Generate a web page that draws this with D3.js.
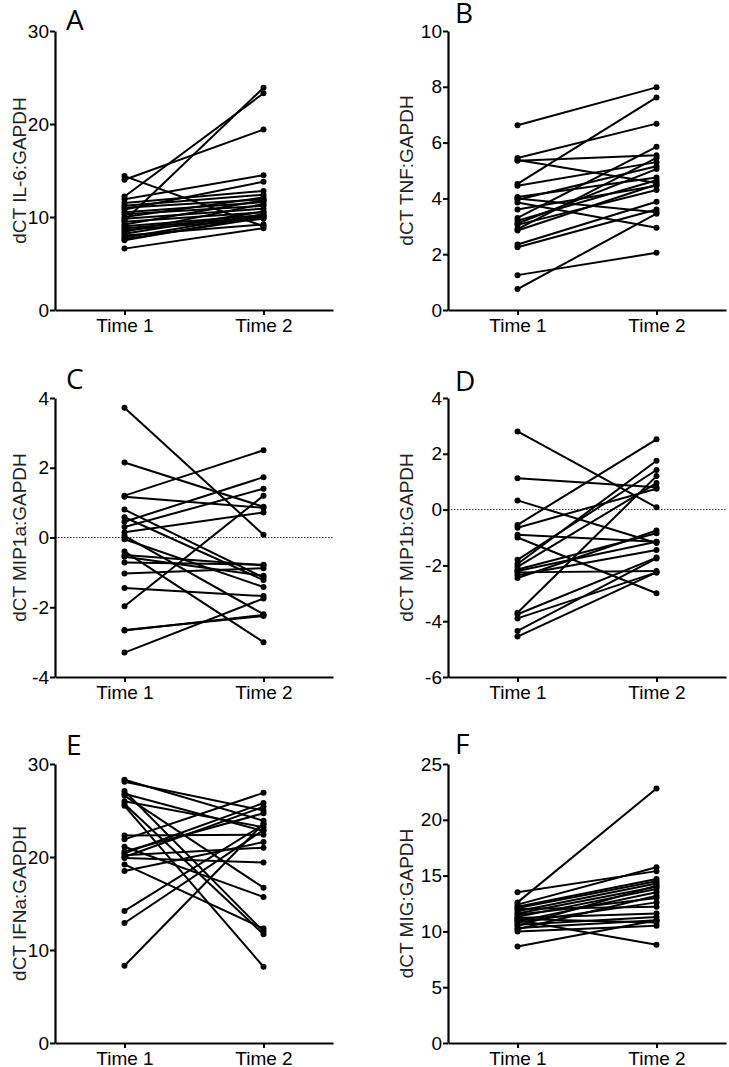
<!DOCTYPE html>
<html><head><meta charset="utf-8">
<script src="https://cdn.jsdelivr.net/npm/d3@7"></script>
<style>
html,body{margin:0;padding:0;background:#fff;}
svg{display:block;}
</style></head>
<body>
<script>
// ---- data ----
const categories = ["Time 1", "Time 2"];

const t1A = [14.4, 14.0, 12.2, 9.6, 11.9, 11.5, 11.2, 11.0, 10.8, 10.5, 10.3, 10.0, 9.8, 9.5, 9.2, 9.0, 8.8, 8.6, 8.4, 8.2, 8.0, 7.8, 7.6, 7.5, 6.6];
const t2A = [9.0, 19.4, 23.3, 23.9, 14.5, 12.8, 12.4, 11.9, 13.8, 11.6, 11.2, 12.1, 10.9, 10.5, 11.8, 10.2, 10.0, 9.8, 11.4, 10.6, 9.2, 10.3, 9.9, 10.1, 8.8];

const t1B = [6.62, 5.45, 5.38, 5.35, 4.52, 4.45, 4.05, 4.0, 3.95, 3.85, 3.6, 3.3, 3.2, 3.1, 3.05, 2.9, 2.85, 2.35, 2.25, 1.25, 0.75];
const t2B = [7.98, 6.68, 4.55, 5.55, 7.62, 5.3, 4.75, 3.5, 5.15, 2.95, 4.45, 5.85, 4.65, 5.05, 4.3, 5.45, 4.5, 3.88, 3.6, 2.05, 3.45];

const t1C = [3.72, 2.15, 1.2, 1.17, 0.8, 0.58, 0.45, 0.3, 0.15, 0.05, -0.05, -0.4, -0.5, -0.55, -0.72, -1.03, -1.45, -1.97, -2.65, -2.67, -3.3];
const t2C = [0.08, 0.88, 2.5, 0.85, -1.15, -1.22, 1.73, 1.4, 0.72, -2.2, -1.42, -3.0, -0.8, -1.1, -0.78, -0.88, -1.68, 1.2, -2.25, -2.22, -1.75];

const t1D = [2.8, 1.12, 0.33, -0.55, -0.65, -0.9, -1.0, -1.8, -1.95, -2.05, -2.15, -2.25, -2.35, -2.45, -2.2, -3.7, -3.75, -3.9, -4.35, -4.55];
const t2D = [0.08, 0.8, -1.2, 2.52, 0.75, -1.15, -3.0, 1.42, 1.75, 0.95, -0.85, -2.2, -1.45, -0.75, -1.15, 1.2, -1.72, -2.25, -1.75, -2.25];

const t1E = [28.3, 28.1, 27.1, 26.6, 26.0, 25.5, 25.7, 22.3, 21.9, 21.1, 20.4, 20.2, 20.0, 19.9, 19.2, 18.5, 14.2, 12.9, 8.3, 20.6, 26.8];
const t2E = [23.9, 25.0, 12.0, 16.7, 23.2, 8.2, 11.7, 22.4, 26.9, 15.7, 25.8, 21.0, 25.4, 19.4, 12.3, 21.6, 23.5, 22.9, 23.6, 24.7, 22.8];

const t1F = [12.6, 13.5, 12.4, 12.2, 12.0, 11.8, 11.6, 11.5, 11.3, 11.2, 11.0, 10.9, 10.8, 10.6, 10.5, 10.3, 10.2, 10.0, 8.65, 11.1, 12.1];
const t2F = [22.8, 15.4, 15.75, 14.7, 12.2, 14.3, 14.0, 13.0, 13.8, 11.6, 8.8, 13.5, 12.6, 11.3, 14.1, 11.0, 13.2, 10.5, 11.0, 10.8, 14.5];

const ticksA = [0, 10, 20, 30];
const ticksB = [0, 2, 4, 6, 8, 10];
const ticksC = [-4, -2, 0, 2, 4];
const ticksD = [-6, -4, -2, 0, 2, 4];
const ticksE = [0, 10, 20, 30];
const ticksF = [0, 5, 10, 15, 20, 25];

const labels = ["A", "B", "C", "D", "E", "F"];
const titles = ["dCT IL-6:GAPDH", "dCT TNF:GAPDH", "dCT MIP1a:GAPDH", "dCT MIP1b:GAPDH", "dCT IFNa:GAPDH", "dCT MIG:GAPDH"];

// ---- layout ----
const W = 729, H = 1067;
const panels = [
  {t1: t1A, t2: t2A, ticks: ticksA, col: 0, row: 0, zero: false, letterDy: -1},
  {t1: t1B, t2: t2B, ticks: ticksB, col: 1, row: 0, zero: false, letterDy: -8},
  {t1: t1C, t2: t2C, ticks: ticksC, col: 0, row: 1, zero: true, letterDy: -9},
  {t1: t1D, t2: t2D, ticks: ticksD, col: 1, row: 1, zero: true, letterDy: -7},
  {t1: t1E, t2: t2E, ticks: ticksE, col: 0, row: 2, zero: false, letterDy: -9},
  {t1: t1F, t2: t2F, ticks: ticksF, col: 1, row: 2, zero: false, letterDy: -10}
];
const colX = [55, 448];
const rowTop = [31, 398, 764];
const pw = 278, ph = 279;
const FONT = "'Liberation Sans', Arial, Helvetica, sans-serif";

const svg = d3.select("body").append("svg").attr("width", W).attr("height", H);

panels.forEach((p, i) => {
  const g = svg.append("g").attr("transform", `translate(${colX[p.col]},${rowTop[p.row]})`);
  const x = d3.scalePoint().domain(categories).range([0, pw]).padding(0.5);
  const y = d3.scaleLinear().domain(d3.extent(p.ticks)).range([ph, 0]);

  if (p.zero) {
    g.append("line").attr("x1", 0).attr("x2", pw).attr("y1", y(0)).attr("y2", y(0))
      .attr("stroke", "#333").attr("stroke-width", 1).attr("stroke-dasharray", "1.5,1.5");
  }

  const pairs = p.t1.map((v, k) => [v, p.t2[k]]);
  g.append("g").selectAll("line").data(pairs).join("line")
    .attr("x1", x(categories[0])).attr("x2", x(categories[1]))
    .attr("y1", d => y(d[0])).attr("y2", d => y(d[1]))
    .attr("stroke", "#000").attr("stroke-width", 2);
  const pts = [];
  pairs.forEach(d => { pts.push([categories[0], d[0]]); pts.push([categories[1], d[1]]); });
  g.append("g").selectAll("circle").data(pts).join("circle")
    .attr("cx", d => x(d[0])).attr("cy", d => y(d[1])).attr("r", 3).attr("fill", "#000");

  const ya = g.append("g").call(d3.axisLeft(y).tickValues(p.ticks).tickFormat(d => String(d)).tickSize(5).tickSizeOuter(0).tickPadding(1));
  const xa = g.append("g").attr("transform", `translate(0,${ph})`)
    .call(d3.axisBottom(x).tickSize(5).tickSizeOuter(0).tickPadding(4));
  [ya, xa].forEach(a => {
    a.select(".domain").attr("stroke-width", 2.2);
    a.selectAll(".tick line").attr("stroke-width", 2);
    a.selectAll(".tick text").attr("font-family", FONT).attr("font-size", 19).attr("fill", "#000");
  });

  const tx = p.col === 0 ? -29 : -35;
  g.append("text").attr("transform", `translate(${tx},${ph / 2}) rotate(-90)`)
    .attr("text-anchor", "middle").attr("font-family", FONT)
    .attr("font-size", 19).attr("fill", "#222").text(titles[i]);

  g.append("text").attr("x", p.col === 0 ? 11 : 7).attr("y", p.letterDy)
    .attr("font-family", "'Open Sans', sans-serif").attr("font-size", 28).attr("fill", "#000")
    .text(labels[i]);
});
</script>
</body></html>
